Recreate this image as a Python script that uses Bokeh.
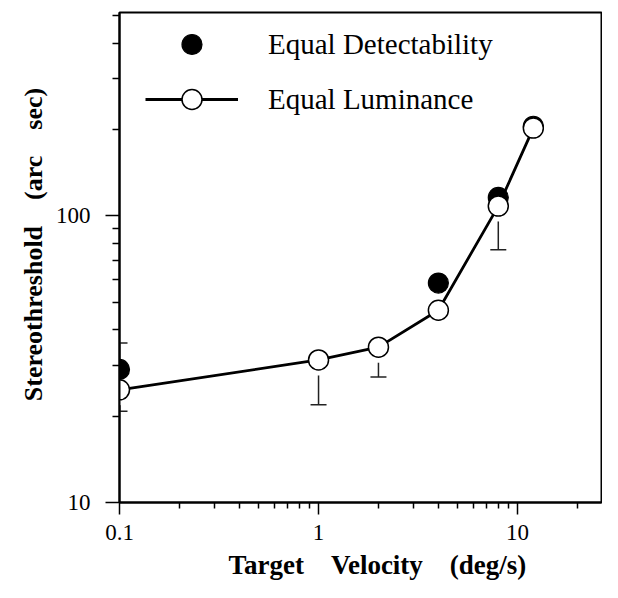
from bokeh.plotting import figure
from bokeh.models import FixedTicker, Legend, LegendItem, Range1d
from bokeh.embed import file_html
from bokeh.resources import INLINE

# ---- data ----
velocity = [0.1, 1, 2, 4, 8, 12]
equal_luminance = [24.7, 31.4, 34.8, 46.8, 108.0, 202.0]

det_velocity = [0.1, 4, 8, 12]
equal_detectability = [29.1, 58.2, 115.8, 205.0]

# one-sided error bars (lower) for equal luminance
err_velocity = [0.1, 1, 2, 8]
err_base = [24.7, 31.4, 34.8, 108.0]
err_lower = [20.8, 21.9, 27.4, 76.0]

# upper error bar for equal detectability
uerr_velocity = [0.1]
uerr_base = [29.1]
uerr_upper = [36.0]

x_major = [0.1, 1, 10]
x_major_labels = ["0.1", "1", "10"]
x_minor = [0.2, 0.3, 0.4, 0.5, 0.6, 0.7, 0.8, 0.9, 2, 3, 4, 5, 6, 7, 8, 9, 20, 30]
y_major = [10, 100]
y_major_labels = ["10", "100"]
y_minor = [20, 30, 40, 50, 60, 70, 80, 90, 200, 300, 400, 500]

FONT = "Liberation Serif"
SP = "\u00a0"

p = figure(width=602, height=582, x_axis_type="log", y_axis_type="log",
           x_range=Range1d(0.1, 26.4), y_range=Range1d(10, 511),
           output_backend="svg", toolbar_location=None,
           min_border_left=119, min_border_right=1,
           min_border_top=12, min_border_bottom=78)

p.xgrid.visible = False
p.ygrid.visible = False
p.outline_line_color = "black"
p.outline_line_width = 2
p.background_fill_color = "white"
p.border_fill_color = "white"

xa = p.xaxis[0]
xa.ticker = FixedTicker(ticks=x_major, minor_ticks=x_minor)
xa.major_label_overrides = dict(zip(x_major, x_major_labels))
xa.major_tick_out = 12
xa.major_tick_in = 0
xa.minor_tick_out = 6
xa.minor_tick_in = 0
xa.axis_line_width = 2
xa.major_tick_line_width = 1.5
xa.minor_tick_line_width = 1.5
xa.major_label_text_font = FONT
xa.major_label_text_font_size = "23px"
xa.major_label_text_color = "black"
xa.major_label_standoff = 10
xa.axis_label = f"{SP*5}Target{SP*4}Velocity{SP*4}(deg/s)"
xa.axis_label_text_font = FONT
xa.axis_label_text_font_style = "bold"
xa.axis_label_text_font_size = "27px"
xa.axis_label_text_color = "black"
xa.axis_label_standoff = 7

ya = p.yaxis[0]
ya.ticker = FixedTicker(ticks=y_major, minor_ticks=y_minor)
ya.major_label_overrides = dict(zip(y_major, y_major_labels))
ya.major_tick_out = 14
ya.major_tick_in = 0
ya.minor_tick_out = 7
ya.minor_tick_in = 0
ya.axis_line_width = 2
ya.major_tick_line_width = 1.5
ya.minor_tick_line_width = 1.5
ya.major_label_text_font = FONT
ya.major_label_text_font_size = "23px"
ya.major_label_text_color = "black"
ya.major_label_standoff = 15
ya.axis_label = f"{SP*4}Stereothreshold{SP*4}(arc{SP*4}sec)"
ya.axis_label_text_font = FONT
ya.axis_label_text_font_style = "bold"
ya.axis_label_text_font_size = "26px"
ya.axis_label_text_color = "black"
ya.axis_label_standoff = 5

# error bars
p.segment(x0=err_velocity, y0=err_base, x1=err_velocity, y1=err_lower,
          line_color="#222222", line_width=1.5)
p.scatter(err_velocity, err_lower, marker="dash", size=16,
          line_color="#222222", line_width=1.5)
p.segment(x0=uerr_velocity, y0=uerr_base, x1=uerr_velocity, y1=uerr_upper,
          line_color="#222222", line_width=1.5)
p.scatter(uerr_velocity, uerr_upper, marker="dash", size=16,
          line_color="#222222", line_width=1.5)

# white halo around open symbols
p.scatter(velocity, equal_luminance, size=31, fill_color="white", line_color=None)

r_line = p.line(velocity, equal_luminance, line_color="black", line_width=2.8)
r_fill = p.scatter(det_velocity, equal_detectability, size=20,
                   fill_color="black", line_color="black", line_width=1.2)
r_open = p.scatter(velocity, equal_luminance, size=20,
                   fill_color="white", line_color="black", line_width=1.5)

legend = Legend(items=[LegendItem(label="Equal Detectability", renderers=[r_fill]),
                       LegendItem(label="Equal Luminance", renderers=[r_line, r_open])],
                location=(26, 378), glyph_width=93, glyph_height=50, spacing=5,
                padding=0, margin=0, label_standoff=30,
                label_text_font=FONT, label_text_font_size="29px",
                label_text_color="black",
                border_line_color=None, background_fill_alpha=0)
p.add_layout(legend)

open("out.html", "w").write(file_html(p, INLINE))
